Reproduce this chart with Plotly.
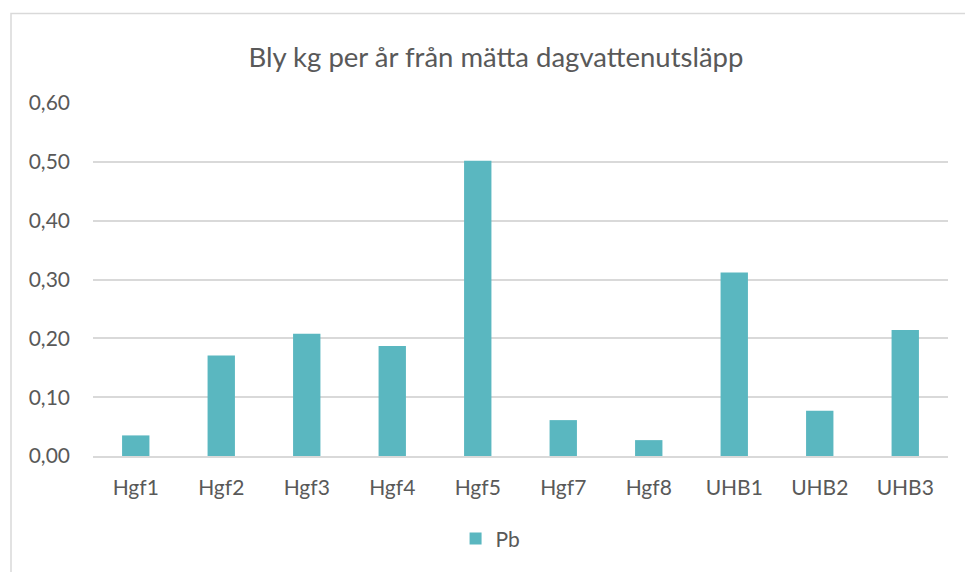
import plotly.graph_objects as go

# Lead (Pb) load per stormwater outlet, kg per year
outlets = ["Hgf1", "Hgf2", "Hgf3", "Hgf4", "Hgf5", "Hgf7", "Hgf8", "UHB1", "UHB2", "UHB3"]
pb_kg = [0.035, 0.171, 0.208, 0.187, 0.502, 0.061, 0.027, 0.312, 0.077, 0.214]
y_ticks = [0.0, 0.1, 0.2, 0.3, 0.4, 0.5, 0.6]
y_tick_text = ["0,00", "0,10", "0,20", "0,30", "0,40", "0,50", "0,60"]

TEXT = "#595959"
GRID = "#d9d9d9"
BAR = "#5ab7c0"
FONT = "Lato, 'Open Sans', sans-serif"

fig = go.Figure()
fig.add_trace(go.Bar(
    x=outlets, y=pb_kg, name="Pb",
    marker=dict(color=BAR, line=dict(width=0)),
))

fig.update_layout(
    width=965, height=572,
    margin=dict(l=93, r=17, t=103, b=114),
    paper_bgcolor="white", plot_bgcolor="white",
    font=dict(family=FONT, color=TEXT, size=21),
    bargap=0.68,
    showlegend=True,
    title=dict(text="Bly kg per år från mätta dagvattenutsläpp",
               x=0.514, xref="container", xanchor="center",
               y=1 - 57 / 572, yref="container", yanchor="middle",
               font=dict(size=27.5, color=TEXT, family=FONT)),
    legend=dict(orientation="h", x=0.465, xanchor="center", y=-0.235, yanchor="middle",
                font=dict(size=21, color=TEXT), itemwidth=30),
    xaxis=dict(showgrid=False, showline=True, linecolor=GRID, linewidth=1.5,
               ticks="", ticklabelstandoff=12, tickfont=dict(size=21, color=TEXT)),
    yaxis=dict(range=[0, 0.6], tickvals=y_ticks, ticktext=y_tick_text,
               showgrid=True, gridcolor=GRID, gridwidth=1.5, zeroline=False,
               showline=False, ticks="", ticklabelstandoff=22,
               tickfont=dict(size=21, color=TEXT)),
    shapes=[dict(type="rect", xref="paper", yref="paper",
                 x0=-0.0959, x1=1.2, y0=-0.5, y1=1.2535,
                 line=dict(color=GRID, width=1.5), fillcolor="rgba(0,0,0,0)",
                 layer="below")],
)

fig.write_html("out.html")
